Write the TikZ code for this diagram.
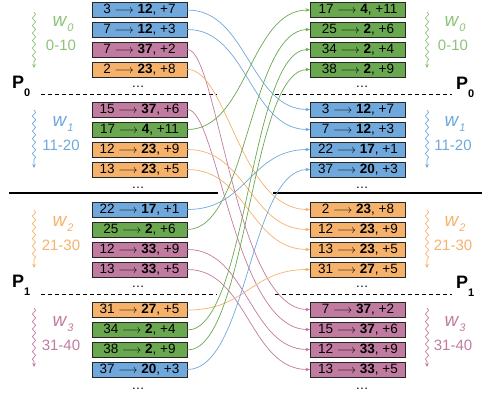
\documentclass[tikz,border=0pt]{standalone}
\usepackage{fontspec}
\setmainfont{Liberation Sans}
\usetikzlibrary{arrows.meta,decorations.pathmorphing}
\definecolor{cblue}{HTML}{6FA8DC}
\definecolor{cgreen}{HTML}{6AA84F}
\definecolor{cpurple}{HTML}{C27BA0}
\definecolor{corange}{HTML}{F6B26B}
\definecolor{tgreen}{HTML}{8CC276}
\definecolor{tblue}{HTML}{6FA8DC}
\definecolor{tpurple}{HTML}{C27BA0}
\definecolor{torange}{HTML}{F6B26B}
\newcommand{\myarrow}{{\fontsize{11.5}{11.5}\selectfont$\longrightarrow$}}
\newcommand{\bx}[3]{#1 \myarrow\ \textbf{#2}, +#3}
\newcommand{\wlab}[1]{\textit{w}\raisebox{-0.55ex}{\fontsize{11}{11}\selectfont\textit{#1}}}
\newcommand{\plab}[1]{\textbf{P}\raisebox{-0.9ex}{\fontsize{11}{11}\selectfont\textbf{#1}}}
\begin{document}
\begin{tikzpicture}[x=1pt,y=-1pt,
  box/.style={draw=black!85, line width=0.9pt, minimum width=95pt, minimum height=15pt, inner sep=0pt, font=\fontsize{13.5}{14}\selectfont},
  bblue/.style={box, fill=cblue},
  bgreen/.style={box, fill=cgreen},
  bpurple/.style={box, fill=cpurple},
  borange/.style={box, fill=corange},
  conn/.style={line width=0.7pt, -{Stealth[length=4.5pt,width=3.5pt]}},
  dotsnode/.style={inner sep=0pt, font=\fontsize{13}{14}\selectfont},
  wavy/.style={line width=0.7pt, decorate, decoration={snake, amplitude=1.6pt, segment length=7.5pt, post length=5pt}, -{Stealth[length=4pt,width=3.5pt]}},
  wtext/.style={inner sep=0pt, font=\fontsize{19}{20}\selectfont},
  rtext/.style={inner sep=0pt, font=\fontsize{15}{16}\selectfont},
  ptext/.style={inner sep=0pt, anchor=base west, font=\fontsize{18}{18}\selectfont},
  sepsolid/.style={line width=1.8pt, black},
  sepdash/.style={line width=0.8pt, dash pattern=on 4pt off 3pt}
]
\useasboundingbox (0,0) rectangle (494,394);

% separators
\draw[sepsolid] (9,193) -- (218,193);
\draw[sepsolid] (273,193) -- (482,193);
\draw[sepdash] (41,94) -- (217,94);
\draw[sepdash] (275,94) -- (452,94);
\draw[sepdash] (41,294) -- (217,294);
\draw[sepdash] (275,294) -- (452,294);

% left column
\node[bblue]   (L0)  at (139.5,10)  {\bx{3}{12}{7}};
\node[bblue]   (L1)  at (139.5,29.5) {\bx{7}{12}{3}};
\node[bpurple] (L2)  at (139.5,49.5) {\bx{7}{37}{2}};
\node[borange] (L3)  at (139.5,69.5) {\bx{2}{23}{8}};
\node[bpurple] (L4)  at (139.5,109.5) {\bx{15}{37}{6}};
\node[bgreen]  (L5)  at (139.5,129.5) {\bx{17}{4}{11}};
\node[borange] (L6)  at (139.5,149.5) {\bx{12}{23}{9}};
\node[borange] (L7)  at (139.5,169.5) {\bx{13}{23}{5}};
\node[bblue]   (L8)  at (139.5,209.5) {\bx{22}{17}{1}};
\node[bgreen]  (L9)  at (139.5,229.5) {\bx{25}{2}{6}};
\node[bpurple] (L10) at (139.5,249.5) {\bx{12}{33}{9}};
\node[bpurple] (L11) at (139.5,269.5) {\bx{13}{33}{5}};
\node[borange] (L12) at (139.5,310) {\bx{31}{27}{5}};
\node[bgreen]  (L13) at (139.5,330) {\bx{34}{2}{4}};
\node[bgreen]  (L14) at (139.5,350) {\bx{38}{2}{9}};
\node[bblue]   (L15) at (139.5,369.5) {\bx{37}{20}{3}};

% right column
\node[bgreen]  (R0)  at (358,10)  {\bx{17}{4}{11}};
\node[bgreen]  (R1)  at (358,29.5) {\bx{25}{2}{6}};
\node[bgreen]  (R2)  at (358,49.5) {\bx{34}{2}{4}};
\node[bgreen]  (R3)  at (358,69.5) {\bx{38}{2}{9}};
\node[bblue]   (R4)  at (358,109.5) {\bx{3}{12}{7}};
\node[bblue]   (R5)  at (358,129.5) {\bx{7}{12}{3}};
\node[bblue]   (R6)  at (358,149.5) {\bx{22}{17}{1}};
\node[bblue]   (R7)  at (358,169.5) {\bx{37}{20}{3}};
\node[borange] (R8)  at (358,209.5) {\bx{2}{23}{8}};
\node[borange] (R9)  at (358,229.5) {\bx{12}{23}{9}};
\node[borange] (R10) at (358,249.5) {\bx{13}{23}{5}};
\node[borange] (R11) at (358,269.5) {\bx{31}{27}{5}};
\node[bpurple] (R12) at (358,309.5) {\bx{7}{37}{2}};
\node[bpurple] (R13) at (358,329.5) {\bx{15}{37}{6}};
\node[bpurple] (R14) at (358,349.5) {\bx{12}{33}{9}};
\node[bpurple] (R15) at (358,369.5) {\bx{13}{33}{5}};

% dots
\node[dotsnode] (dl0) at (138,87) {\dots};
\node[dotsnode] (dl1) at (138,188) {\dots};
\node[dotsnode] (dl2) at (138,287) {\dots};
\node[dotsnode] (dl3) at (138,389) {\dots};
\node[dotsnode] (dr0) at (362,87) {\dots};
\node[dotsnode] (dr1) at (362,188) {\dots};
\node[dotsnode] (dr2) at (362,287) {\dots};
\node[dotsnode] (dr3) at (362,389) {\dots};

% connectors
\draw[conn,cblue]   (L0.east)  .. controls +(60,0) and +(-60,0) .. (R4.west);
\draw[conn,cblue]   (L1.east)  .. controls +(60,0) and +(-60,0) .. (R5.west);
\draw[conn,cpurple] (L2.east)  .. controls +(30,0) and +(-75,0) .. (R12.west);
\draw[conn,corange] (L3.east)  .. controls +(40,0) and +(-70,0) .. (R8.west);
\draw[conn,cpurple] (L4.east)  .. controls +(30,0) and +(-75,0) .. (R13.west);
\draw[conn,cgreen]  (L5.east)  .. controls +(60,0) and +(-60,0) .. (R0.west);
\draw[conn,corange] (L6.east)  .. controls +(60,0) and +(-60,0) .. (R9.west);
\draw[conn,corange] (L7.east)  .. controls +(60,0) and +(-60,0) .. (R10.west);
\draw[conn,cblue]   (L8.east)  .. controls +(60,0) and +(-60,0) .. (R6.west);
\draw[conn,cgreen]  (L9.east)  .. controls +(60,0) and +(-60,0) .. (R1.west);
\draw[conn,cpurple] (L10.east) .. controls +(60,0) and +(-60,0) .. (R14.west);
\draw[conn,cpurple] (L11.east) .. controls +(60,0) and +(-60,0) .. (R15.west);
\draw[conn,corange] (L12.east) .. controls +(60,0) and +(-60,0) .. (R11.west);
\draw[conn,cgreen]  (L13.east) .. controls +(60,0) and +(-60,0) .. (R2.west);
\draw[conn,cgreen]  (L14.east) .. controls +(60,0) and +(-60,0) .. (R3.west);
\draw[conn,cblue]   (L15.east) .. controls +(60,0) and +(-60,0) .. (R7.west);

% wavy arrows and labels
\draw[wavy,tgreen]  (34,12) -- (34,68);
\draw[wavy,tblue]   (34,110) -- (34,168);
\draw[wavy,torange] (34,210) -- (34,268);
\draw[wavy,tpurple] (34,308) -- (34,367);
\draw[wavy,tgreen]  (427,12) -- (427,68);
\draw[wavy,tblue]   (427,110) -- (427,168);
\draw[wavy,torange] (427,210) -- (427,268);
\draw[wavy,tpurple] (427,308) -- (427,367);

\node[wtext,tgreen]  (wl0) at (63,24) {\wlab{0}};
\node[rtext,tgreen]  (rl0) at (61,45.5) {0-10};
\node[wtext,tblue]   (wl1) at (63,124) {\wlab{1}};
\node[rtext,tblue]   (rl1) at (61,145.5) {11-20};
\node[wtext,torange] (wl2) at (63,224) {\wlab{2}};
\node[rtext,torange] (rl2) at (61,245.5) {21-30};
\node[wtext,tpurple] (wl3) at (63,324) {\wlab{3}};
\node[rtext,tpurple] (rl3) at (61,345.5) {31-40};

\node[wtext,tgreen]  (wr0) at (455,24) {\wlab{0}};
\node[rtext,tgreen]  (rr0) at (453,45.5) {0-10};
\node[wtext,tblue]   (wr1) at (455,124) {\wlab{1}};
\node[rtext,tblue]   (rr1) at (453,145.5) {11-20};
\node[wtext,torange] (wr2) at (455,224) {\wlab{2}};
\node[rtext,torange] (rr2) at (453,245.5) {21-30};
\node[wtext,tpurple] (wr3) at (455,324) {\wlab{3}};
\node[rtext,tpurple] (rr3) at (453,345.5) {31-40};

% P labels
\node[ptext] (pl0) at (12,88) {\plab{0}};
\node[ptext] (pr0) at (456,89) {\plab{0}};
\node[ptext] (pl1) at (12,287) {\plab{1}};
\node[ptext] (pr1) at (456,288) {\plab{1}};
\end{tikzpicture}
\end{document}
